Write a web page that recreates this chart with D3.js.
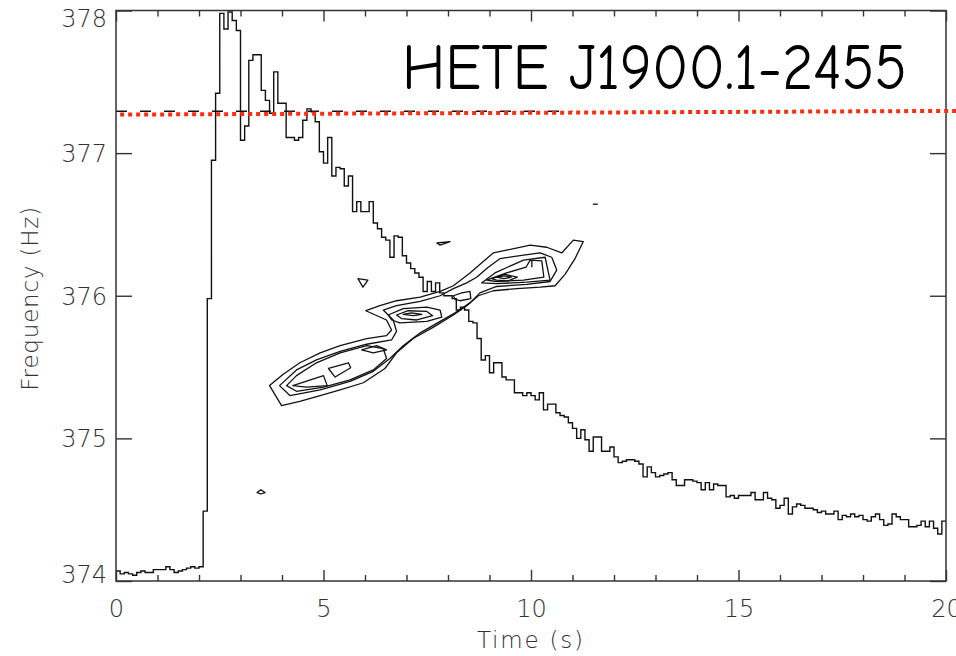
<!DOCTYPE html>
<html lang="en">
<head>
<meta charset="UTF-8">
<title>HETE J1900.1-2455 burst oscillation</title>
<script src="https://cdn.jsdelivr.net/npm/d3@7/dist/d3.min.js"></script>
<style>
    body { margin: 0; background: #fff; }
    svg { display: block; }
    .axis text {
        font-family: "DejaVu Sans", sans-serif;
        font-weight: 200;
        font-size: 24px;
        fill: #333;
    }
    .axis line { stroke: #333; stroke-width: 1.4; }
    .axis .domain { display: none; }
    .label {
        font-family: "DejaVu Sans", sans-serif;
        font-weight: 200;
        font-size: 23px;
        fill: #333;
    }
</style>
</head>
<body>
<div id="chart"></div>
<script>
// frequency track, one value per 0.1 s bin, 0 - 20 s
const binWidth = 0.1;
const freq = [
    374.07, 374.05, 374.06, 374.05, 374.04, 374.06, 374.07, 374.06, 374.06, 374.08,
    374.08, 374.08, 374.10, 374.08, 374.06, 374.07, 374.08, 374.09, 374.10, 374.09,
    374.10, 374.49, 375.98, 376.95, 377.42, 377.98, 377.87, 377.99, 377.93, 377.86,
    377.09, 377.19, 377.65, 377.69, 377.69, 377.44, 377.37, 377.28, 377.57, 377.35,
    377.35, 377.11, 377.11, 377.09, 377.11, 377.23, 377.31, 377.29, 377.22, 377.01,
    376.93, 377.11, 376.84, 376.90, 376.89, 376.77, 376.84, 376.59, 376.66, 376.59,
    376.59, 376.66, 376.51, 376.47, 376.41, 376.39, 376.27, 376.42, 376.41, 376.28,
    376.23, 376.19, 376.16, 376.13, 376.03, 376.10, 376.03, 376.09, 376.02, 376.00,
    376.00, 375.98, 375.90, 375.92, 375.90, 375.82, 375.81, 375.70, 375.55, 375.58,
    375.46, 375.53, 375.53, 375.43, 375.41, 375.41, 375.32, 375.32, 375.30, 375.32,
    375.30, 375.27, 375.32, 375.20, 375.24, 375.24, 375.18, 375.16, 375.15, 375.11,
    375.07, 375.00, 375.06, 374.99, 374.91, 375.01, 375.01, 374.91, 374.91, 374.94,
    374.87, 374.83, 374.84, 374.85, 374.85, 374.84, 374.82, 374.73, 374.80, 374.76,
    374.73, 374.74, 374.75, 374.76, 374.71, 374.67, 374.67, 374.71, 374.71, 374.70,
    374.69, 374.64, 374.69, 374.64, 374.68, 374.67, 374.67, 374.59, 374.60, 374.58,
    374.60, 374.60, 374.60, 374.62, 374.57, 374.57, 374.62, 374.58, 374.57, 374.51,
    374.53, 374.58, 374.47, 374.52, 374.54, 374.53, 374.51, 374.51, 374.50, 374.48,
    374.49, 374.47, 374.47, 374.49, 374.43, 374.46, 374.45, 374.47, 374.45, 374.46,
    374.43, 374.42, 374.45, 374.47, 374.43, 374.39, 374.40, 374.47, 374.45, 374.43,
    374.43, 374.38, 374.38, 374.39, 374.42, 374.38, 374.42, 374.37, 374.33, 374.42
];

// power contours, [time s, frequency Hz]
const contourOuter = [
    [3.70,375.37],[3.99,375.23],[4.43,375.26],[4.92,375.30],[5.40,375.34],[5.96,375.39],
    [6.48,375.49],[6.76,375.60],[7.16,375.70],[7.65,375.78],[8.13,375.865],[8.45,375.93],
    [8.73,376.00],[9.09,376.035],[9.66,376.05],[10.22,376.06],[10.58,376.07],[10.82,376.15],
    [11.06,376.26],[11.26,376.38],[11.02,376.39],[10.74,376.30],[10.38,376.34],[9.98,376.355],
    [9.41,376.32],[9.09,376.30],[8.85,376.24],[8.53,376.16],[8.13,376.07],[7.81,376.03],
    [7.33,375.99],[6.76,375.965],[6.36,375.93],[6.02,375.895],[6.52,375.83],[6.64,375.76],
    [6.52,375.72],[6.04,375.70],[5.40,375.65],[4.92,375.60],[4.43,375.53],[4.03,375.45]
];
const contourSecond = [
    [3.94,375.37],[4.19,375.30],[4.92,375.34],[5.64,375.40],[6.20,375.47],[6.60,375.56],
    [6.92,375.65],[7.33,375.74],[7.81,375.82],[8.17,375.88],[8.53,375.95],[8.77,376.02],
    [9.17,376.065],[9.90,376.08],[10.46,376.10],[10.62,376.18],[10.50,376.27],[10.22,376.30],
    [9.82,376.285],[9.25,376.26],[8.97,376.20],[8.69,376.13],[8.45,376.09],[8.13,376.05],
    [7.81,376.00],[7.33,375.96],[6.76,375.93],[6.44,375.90],[6.68,375.83],[6.76,375.75],
    [6.64,375.69],[6.04,375.66],[5.40,375.61],[4.83,375.55],[4.35,375.48]
];
const contourLowerLobe = [
    [4.11,375.37],[4.35,375.33],[5.00,375.36],[5.64,375.41],[6.20,375.48],[6.52,375.56],
    [6.44,375.63],[6.04,375.65],[5.40,375.60],[4.83,375.53],[4.35,375.44]
];
const contourLowerPeakA = [[4.26,375.37],[5.00,375.44],[5.09,375.37],[4.59,375.36]];
const contourLowerPeakB = [[5.12,375.49],[5.60,375.53],[5.655,375.495],[5.28,375.43]];
const contourLowerPeakC = [[5.92,375.62],[6.28,375.65],[6.52,375.62],[6.20,375.60]];
const contourMidLobe = [
    [6.56,375.865],[6.92,375.91],[7.49,375.92],[7.81,375.90],[7.85,375.85],[7.49,375.82],
    [6.84,375.81],[6.64,375.83]
];
const contourMidInner = [[6.76,375.865],[7.04,375.895],[7.49,375.89],[7.63,375.86],[7.25,375.83],[6.88,375.84]];
const contourMidPeak = [[6.92,375.87],[7.12,375.88],[7.37,375.87],[7.16,375.86]];
const contourNeck = [[8.13,376.00],[8.33,376.02],[8.53,376.03],[8.55,375.98],[8.29,375.965],[8.17,375.975]];
const contourUpperLobe = [
    [8.81,376.09],[9.13,376.16],[9.82,376.25],[10.34,376.27],[10.46,376.11],[9.90,376.095],[9.17,376.085]
];
const contourUpperInner = [
    [8.93,376.11],[9.41,376.16],[9.88,376.20],[9.98,376.25],[10.26,376.245],[10.31,376.13],
    [9.82,376.11],[9.17,376.10]
];
const contourUpperCore = [[9.05,376.12],[9.37,376.15],[9.67,376.13],[9.45,376.105],[9.17,376.11]];
const contourUpperPeak = [[9.17,376.13],[9.37,376.14],[9.53,376.13],[9.35,376.12]];
const contourSpecks = [
    [[5.83,376.12],[6.07,376.11],[5.95,376.06]],
    [[7.73,376.37],[8.05,376.38],[7.81,376.355]],
    [[3.40,374.62],[3.49,374.64],[3.59,374.62],[3.49,374.61]]
];
const contourStrokes = [
    [[10.02,376.25],[10.02,376.20]],
    [[11.49,376.642],[11.61,376.642]]
];

// reference levels
const dashedLevel = 377.294;
const dashedEnd = 11.0;
const redLine = [[0.1, 377.27], [20.25, 377.296]];

// axes
const xMajor = [0, 5, 10, 15, 20];
const xMinor = d3.range(0, 21).filter(d => d % 5 !== 0);
const yMajor = [374, 375, 376, 377, 378];
const title = "HETE J1900.1-2455";

const width = 956, height = 656;
const plotLeft = 116, plotRight = 946, plotTop = 10.5, plotBottom = 581;

const svg = d3.select("#chart").append("svg")
    .attr("width", width)
    .attr("height", height);

const x = d3.scaleLinear().domain([0, 20]).range([plotLeft, plotRight]);
const y = d3.scaleLinear().domain([374, 378]).range([plotBottom, plotTop]);

svg.append("defs").append("clipPath").attr("id", "plot")
    .append("rect")
    .attr("x", plotLeft).attr("y", plotTop)
    .attr("width", plotRight - plotLeft).attr("height", plotBottom - plotTop);

// step curve
const pts = freq.map((v, i) => [i * binWidth, v]);
pts.push([20, freq[freq.length - 1]]);
const stepLine = d3.line().x(d => x(d[0])).y(d => y(d[1])).curve(d3.curveStepAfter);

svg.append("path")
    .attr("clip-path", "url(#plot)")
    .attr("d", stepLine(pts))
    .attr("fill", "none")
    .attr("stroke", "#111")
    .attr("stroke-width", 1.4);

// contours
const closed = d3.line().x(d => x(d[0])).y(d => y(d[1])).curve(d3.curveLinearClosed);
const open = d3.line().x(d => x(d[0])).y(d => y(d[1]));
const closedSet = [contourOuter, contourSecond, contourLowerLobe, contourLowerPeakA,
    contourLowerPeakB, contourLowerPeakC, contourMidLobe, contourMidInner, contourMidPeak,
    contourNeck, contourUpperLobe, contourUpperInner, contourUpperCore, contourUpperPeak,
    ...contourSpecks];

svg.append("g")
    .selectAll("path")
    .data(closedSet)
    .join("path")
    .attr("d", d => closed(d))
    .attr("fill", "none")
    .attr("stroke", "#111")
    .attr("stroke-width", 1.3)
    .attr("stroke-linejoin", "round");

svg.append("g")
    .selectAll("path")
    .data(contourStrokes)
    .join("path")
    .attr("d", d => open(d))
    .attr("fill", "none")
    .attr("stroke", "#111")
    .attr("stroke-width", 1.3);

// dashed black level
svg.append("line")
    .attr("x1", x(0)).attr("x2", x(dashedEnd))
    .attr("y1", y(dashedLevel)).attr("y2", y(dashedLevel))
    .attr("stroke", "#111")
    .attr("stroke-width", 1.5)
    .attr("stroke-dasharray", "11,13");

// frame
svg.append("rect")
    .attr("x", plotLeft).attr("y", plotTop)
    .attr("width", plotRight - plotLeft).attr("height", plotBottom - plotTop)
    .attr("fill", "none")
    .attr("stroke", "#333")
    .attr("stroke-width", 1.5);

// bottom / top axes
svg.append("g").attr("class", "axis")
    .attr("transform", `translate(0,${plotBottom})`)
    .call(d3.axisBottom(x).tickValues(xMajor).tickSize(-11).tickPadding(19).tickFormat(d3.format("d")));
svg.append("g").attr("class", "axis")
    .attr("transform", `translate(0,${plotBottom})`)
    .call(d3.axisBottom(x).tickValues(xMinor).tickSize(-6).tickFormat(""));
svg.append("g").attr("class", "axis")
    .attr("transform", `translate(0,${plotTop})`)
    .call(d3.axisTop(x).tickValues(xMajor).tickSize(-11).tickFormat(""));
svg.append("g").attr("class", "axis")
    .attr("transform", `translate(0,${plotTop})`)
    .call(d3.axisTop(x).tickValues(xMinor).tickSize(-6).tickFormat(""));

// left / right axes
const yAxis = svg.append("g").attr("class", "axis")
    .attr("transform", `translate(${plotLeft},0)`)
    .call(d3.axisLeft(y).tickValues(yMajor).tickSize(-16).tickPadding(9).tickFormat(d3.format("d")));
yAxis.selectAll("text")
    .attr("dy", d => d === 378 ? "0.65em" : d === 374 ? "0.05em" : "0.35em");
svg.append("g").attr("class", "axis")
    .attr("transform", `translate(${plotRight},0)`)
    .call(d3.axisRight(y).tickValues(yMajor).tickSize(-16).tickFormat(""));

// red dotted level
svg.append("path")
    .attr("d", open(redLine))
    .attr("stroke", "#fa2c12")
    .attr("stroke-width", 4)
    .attr("stroke-dasharray", "4,4");

// axis titles
svg.append("text").attr("class", "label")
    .attr("x", (plotLeft + plotRight) / 2 - 1).attr("y", 648)
    .attr("text-anchor", "middle")
    .attr("textLength", 106)
    .text("Time (s)");
svg.append("text").attr("class", "label")
    .attr("transform", `translate(38,${(plotTop + plotBottom) / 2 + 3}) rotate(-90)`)
    .attr("text-anchor", "middle")
    .attr("textLength", 184)
    .text("Frequency (Hz)");

// source name
svg.append("text")
    .attr("x", 402).attr("y", 89)
    .attr("textLength", 505)
    .attr("lengthAdjust", "spacingAndGlyphs")
    .style("font-family", '"Comic Sans MS", "Comic Neue", "Noto Sans", sans-serif')
    .style("font-size", "64px")
    .style("fill", "#000")
    .text(title);
</script>
</body>
</html>
